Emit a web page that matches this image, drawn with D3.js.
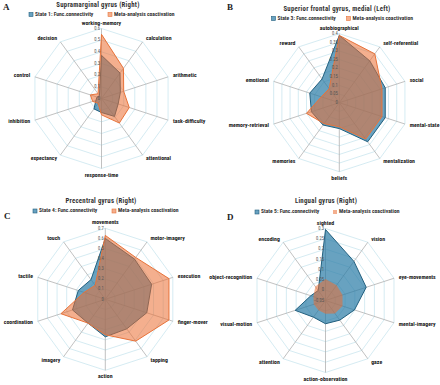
<!DOCTYPE html>
<html>
<head>
<meta charset="utf-8">
<script src="https://cdn.jsdelivr.net/npm/d3@7"></script>
<style>
  html, body { margin: 0; padding: 0; background: #fff; }
  svg { display: block; }
</style>
</head>
<body>
<div id="chart"></div>
<script>
// Radar panels A-D: functional connectivity vs meta-analysis coactivation
const catsA = ["working-memory", "calculation", "arithmetic", "task-difficulty", "attentional",
  "response-time", "expectancy", "inhibition", "control", "decision"];
const funcA = [0.37, 0.27, 0.17, 0.15, 0.19, 0.12, 0.11, 0.05, 0.04, 0.03];
const metaA = [0.55, 0.32, 0.20, 0.25, 0.26, 0.14, 0.05, 0.08, 0.10, 0.05];
const ticksA = [0, 0.1, 0.2, 0.3, 0.4, 0.5, 0.6];

const catsB = ["autobiographical", "self-referential", "social", "mental-state", "mentalization",
  "beliefs", "memories", "memory-retrieval", "emotional", "reward"];
const funcB = [0.39, 0.30, 0.28, 0.28, 0.28, 0.15, 0.16, 0.17, 0.18, 0.17];
const metaB = [0.39, 0.35, 0.26, 0.26, 0.26, 0.14, 0.15, 0.20, 0.11, 0.10];
const ticksB = [0, 0.05, 0.1, 0.15, 0.2, 0.25, 0.3, 0.35, 0.4];

const catsC = ["movements", "motor-imagery", "execution", "finger-mover", "tapping",
  "action", "imagery", "coordination", "tactile", "touch"];
const funcC = [0.60, 0.49, 0.48, 0.43, 0.36, 0.37, 0.29, 0.34, 0.28, 0.24];
const metaC = [0.63, 0.51, 0.66, 0.66, 0.51, 0.35, 0.29, 0.46, 0.22, 0.17];
const ticksC = [0, 0.1, 0.2, 0.3, 0.4, 0.5, 0.6, 0.7];

const catsD = ["sighted", "vision", "eye-movements", "mental-imagery", "gaze",
  "action-observation", "attention", "visual-motion", "object-recognition", "encoding"];
const funcD = [0.295, 0.185, 0.158, 0.098, 0.068, 0.063, 0.05, 0.105, 0.025, 0.01];
const metaD = [0.055, 0.042, 0.037, 0.037, 0.028, 0.015, 0.008, 0.01, 0.012, 0.034];
const ticksD = [-0.05, 0, 0.05, 0.1, 0.15, 0.2, 0.25, 0.3];

const letters = ["A", "B", "C", "D"];
const titles = ["Supramarginal gyrus (Right)", "Superior frontal gyrus, medial (Left)",
  "Precentral gyrus (Right)", "Lingual gyrus (Right)"];
const stateNames = ["State 1: Func.connectivity", "State 3: Func.connectivity",
  "State 4: Func.connectivity", "State 5: Func.connectivity"];
const metaName = "Meta-analysis coactivation";

const width = 440, height = 385;
const labelFont = "'Liberation Sans Narrow', 'Roboto Condensed', Roboto, sans-serif";
const blueFill = "rgba(40,122,165,0.7)", blueLine = "#22607f";
const orangeFill = "rgba(235,110,50,0.55)", orangeLine = "#e8733a";

const panels = [
  { cats: catsA, func: funcA, meta: metaA, ticks: ticksA, cx: 101.5, cy: 98.5, R: 70,
    titleX: 98, titleY: 5, legX: 29, legX2: 108, legY: 14.5, letX: 3, letY: 10 },
  { cats: catsB, func: funcB, meta: metaB, ticks: ticksB, cx: 339.3, cy: 102.7, R: 69,
    titleX: 337, titleY: 9, legX: 271.5, legX2: 346.5, legY: 18.5, letX: 227, letY: 10 },
  { cats: catsC, func: funcC, meta: metaC, ticks: ticksC, cx: 105.3, cy: 299.3, R: 71,
    titleX: 101, titleY: 201, legX: 33, legX2: 112, legY: 211, letX: 4, letY: 219 },
  { cats: catsD, func: funcD, meta: metaD, ticks: ticksD, cx: 325.5, cy: 300.5, R: 72,
    titleX: 326, titleY: 201, legX: 255, legX2: 333, legY: 212, letX: 227, letY: 220 }
];

const svg = d3.select("#chart").append("svg")
  .attr("width", width)
  .attr("height", height)
  .attr("viewBox", `0 0 ${width} ${height}`);

panels.forEach((p, k) => {
  const n = p.cats.length;
  const angle = d3.scaleLinear().domain([0, n]).range([0, 2 * Math.PI]);
  const r = d3.scaleLinear().domain(d3.extent(p.ticks)).range([0, p.R]);

  // header: letter, title, legend
  svg.append("text")
    .attr("x", p.letX).attr("y", p.letY)
    .attr("font-family", "'Liberation Serif', serif")
    .attr("font-weight", "bold").attr("font-size", "9px")
    .attr("fill", "#222").text(letters[k]);

  svg.append("text")
    .attr("x", p.titleX).attr("y", p.titleY)
    .attr("text-anchor", "middle").attr("dominant-baseline", "middle")
    .attr("font-family", labelFont)
    .attr("font-weight", "bold").attr("font-size", "6.8px")
    .attr("letter-spacing", "0.25px")
    .attr("fill", "#333").text(titles[k]);

  const leg = [
    { x: p.legX, fill: blueFill, stroke: blueLine, label: stateNames[k] },
    { x: p.legX2, fill: orangeFill, stroke: k === 3 ? "none" : orangeLine, label: metaName }
  ];
  leg.forEach(d => {
    svg.append("rect")
      .attr("x", d.x).attr("y", p.legY - 2)
      .attr("width", 4).attr("height", 4)
      .attr("fill", d.fill).attr("stroke", d.stroke).attr("stroke-width", 0.6);
    svg.append("text")
      .attr("x", d.x + 6).attr("y", p.legY)
      .attr("dominant-baseline", "middle")
      .attr("font-family", labelFont)
      .attr("font-weight", "bold").attr("font-size", "5.6px")
      .attr("fill", "#333").text(d.label);
  });

  const g = svg.append("g").attr("transform", `translate(${p.cx},${p.cy})`);

  // grid rings
  const ring = d3.lineRadial()
    .angle((d, i) => angle(i))
    .radius(d => r(d))
    .curve(d3.curveLinearClosed);

  p.ticks.slice(1).forEach(t => {
    g.append("path")
      .attr("d", ring(p.cats.map(() => t)))
      .attr("fill", "none")
      .attr("stroke", "#c3e3ec")
      .attr("stroke-width", 0.7);
  });

  // spokes
  g.selectAll(".spoke")
    .data(p.cats)
    .join("line")
    .attr("x1", 0).attr("y1", 0)
    .attr("x2", (d, i) => p.R * Math.sin(angle(i)))
    .attr("y2", (d, i) => -p.R * Math.cos(angle(i)))
    .attr("stroke", "#a6a6a6")
    .attr("stroke-width", 0.7);

  // series
  const poly = d3.lineRadial()
    .angle((d, i) => angle(i))
    .radius(d => r(d))
    .curve(d3.curveLinearClosed);

  g.append("path")
    .attr("d", poly(p.func))
    .attr("fill", blueFill)
    .attr("stroke", blueLine)
    .attr("stroke-width", 1);

  g.append("path")
    .attr("d", poly(p.meta))
    .attr("fill", orangeFill)
    .attr("stroke", k === 3 ? "none" : orangeLine)
    .attr("stroke-width", 1);

  // tick labels along the first spoke
  g.selectAll(".tick")
    .data(p.ticks)
    .join("text")
    .attr("x", -1.5)
    .attr("y", d => -r(d))
    .attr("text-anchor", "end")
    .attr("dominant-baseline", "middle")
    .attr("font-family", labelFont)
    .attr("font-size", "4.6px")
    .attr("fill", "#555")
    .text(d => d3.format("")(+d.toFixed(2)));

  // category labels
  g.selectAll(".cat")
    .data(p.cats)
    .join("text")
    .each(function (d, i) {
      const a = angle(i), s = Math.sin(a), c = Math.cos(a);
      const lr = p.R + 4;
      d3.select(this)
        .attr("x", lr * s + (Math.abs(s) > 0.1 ? Math.sign(s) : 0))
        .attr("y", -lr * c)
        .attr("text-anchor", Math.abs(s) < 0.1 ? "middle" : (s > 0 ? "start" : "end"))
        .attr("dominant-baseline", c > 0.9 ? "auto" : (c < -0.9 ? "hanging" : "middle"))
        .text(d);
    })
    .attr("font-family", labelFont)
    .attr("font-weight", "bold")
    .attr("font-size", "5.8px")
    .attr("fill", "#222");
});
</script>
</body>
</html>
